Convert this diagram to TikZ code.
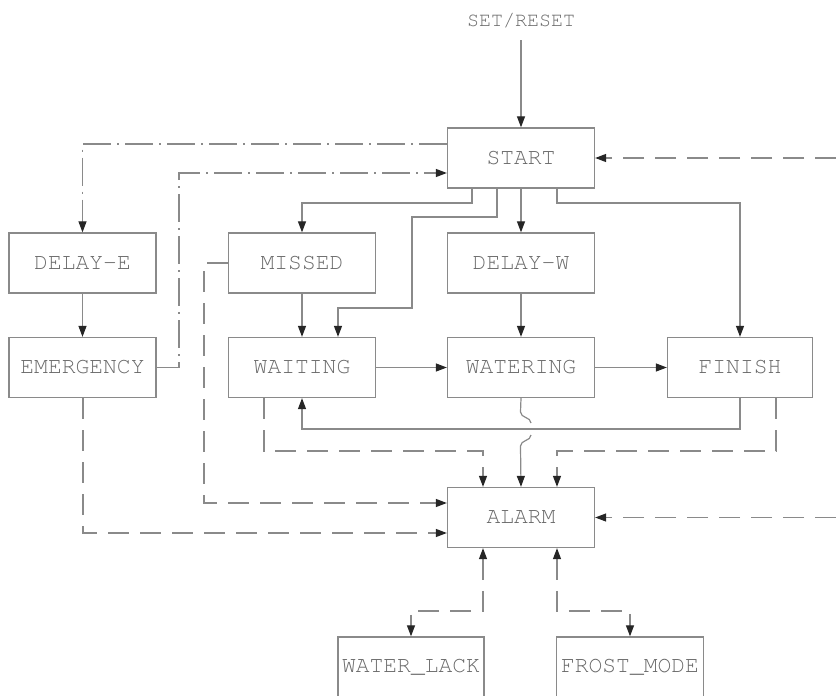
\documentclass[tikz,border=0pt]{standalone}
\usepackage{fontspec}
\setmonofont{TeX Gyre Cursor}
\usetikzlibrary{arrows.meta}
\definecolor{linec}{HTML}{8A8A8A}
\definecolor{boxc}{HTML}{8A8A8A}
\definecolor{textc}{HTML}{6A6A6A}
\tikzset{
  stbox/.style={draw=boxc, line width=1.3pt, minimum width=147pt, minimum height=60pt,
    inner sep=0pt, font=\ttfamily\fontsize{23}{23}\selectfont, text=textc, fill=white},
  conn/.style={draw=linec, line width=1.2pt, -{Triangle[length=11pt,width=8pt,color=black!85]}},
  biconn/.style={draw=linec, line width=1.2pt, {Triangle[length=11pt,width=8pt,color=black!85]}-{Triangle[length=11pt,width=8pt,color=black!85]}},
  dsh/.style={dash pattern=on 21pt off 11pt},
  dshdot/.style={dash pattern=on 28pt off 6pt on 2pt off 6pt},
}
\begin{document}
\begin{tikzpicture}[x=1pt,y=-1pt]
\useasboundingbox (0,0) rectangle (836,696);
% nodes
\node[text=textc, font=\ttfamily\fontsize{20}{20}\selectfont] (setreset) at (521,21) {SET/RESET};
\node[stbox] (start) at (521,158) {START};
\node[stbox] (delaye) at (82.5,263) {DELAY-E};
\node[stbox] (missed) at (302,263) {MISSED};
\node[stbox] (delayw) at (521,263) {DELAY-W};
\node[stbox] (emerg) at (82.5,367.5) {EMERGENCY};
\node[stbox] (waiting) at (302,367.5) {WAITING};
\node[stbox] (watering) at (521,367.5) {WATERING};
\node[stbox, minimum width=145pt] (finish) at (740,367.5) {FINISH};
\node[stbox] (alarm) at (521,517.5) {ALARM};
\node[stbox, minimum width=146pt] (wlack) at (411,667) {WATER\_LACK};
\node[stbox] (frost) at (630,667) {FROST\_MODE};
\coordinate (rtop) at (836,158);
\coordinate (rbot) at (836,517.5);
% connectors
\draw[conn] (521,40) -- (start.north);
\draw[conn, dshdot] (start.west |- 0,144) -- (82.5,144) -- (delaye.north);
\draw[conn, dshdot] (emerg.east) -- (179,367.5) -- (179,173) -- (start.west |- 0,173);
\draw[conn] (start.south -| 472,0) -- (472,203) -- (302,203) -- (missed.north);
\draw[conn] (start.south -| 497,0) -- (497,217) -- (412,217) -- (412,308) -- (338,308) -- (waiting.north -| 338,0);
\draw[conn] (start.south) -- (delayw.north);
\draw[conn] (start.south -| 557,0) -- (557,203) -- (740,203) -- (finish.north);
\draw[conn] (delaye.south) -- (emerg.north);
\draw[conn] (missed.south) -- (waiting.north);
\draw[conn] (delayw.south) -- (watering.north);
\draw[conn] (waiting.east) -- (watering.west);
\draw[conn] (watering.east) -- (finish.west);
\draw[conn] (finish.south) -- (740,429) -- (302,429) -- (waiting.south);
\draw[conn] (watering.south) -- (520.5,412) .. controls (520.5,418) and (531,417) .. (531,423)
  (531,435) .. controls (531,441) and (520.5,440) .. (520.5,446) -- (alarm.north);
\draw[conn, dsh] (waiting.south -| 264,0) -- (264,451) -- (483,451) -- (alarm.north -| 483,0);
\draw[conn, dsh] (finish.south -| 776,0) -- (776,451) -- (557,451) -- (alarm.north -| 557,0);
\draw[conn, dsh] (missed.west) -- (204,263) -- (204,503) -- (alarm.west |- 0,503);
\draw[conn, dsh] (emerg.south -| 83,0) -- (83,533) -- (alarm.west |- 0,533);
\draw[conn, dsh] (rtop) -- (start.east);
\draw[conn, dsh] (rbot) -- (alarm.east);
\draw[biconn, dsh] (alarm.south -| 483,0) -- (483,611) -- (411,611) -- (wlack.north);
\draw[biconn, dsh] (alarm.south -| 557,0) -- (557,611) -- (630,611) -- (frost.north);
\end{tikzpicture}
\end{document}
